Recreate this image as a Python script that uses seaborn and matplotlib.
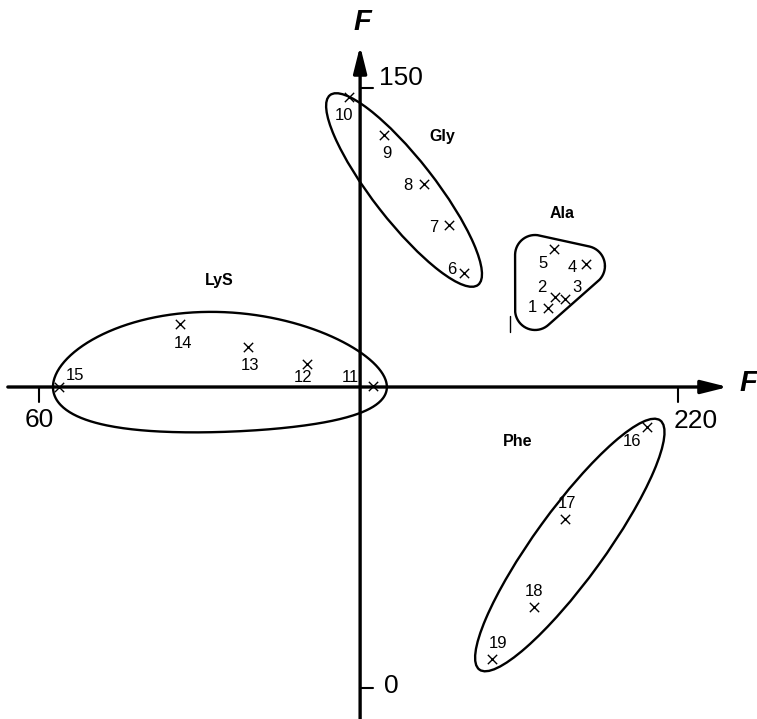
import numpy as np
import pandas as pd
import matplotlib
matplotlib.use("Agg")
import matplotlib.pyplot as plt
from matplotlib.patches import Ellipse
import seaborn as sns

# point coordinates (F axis units)
ids = [1, 2, 3, 4, 5, 6, 7, 8, 9, 10, 11, 12, 13, 14, 15, 16, 17, 18, 19]
groups = ["Ala"] * 5 + ["Gly"] * 5 + ["LyS"] * 5 + ["Phe"] * 4
fx = [187.4, 189.2, 191.7, 197.0, 188.9,
      166.4, 162.7, 156.4, 146.4, 137.6,
      143.6, 127.1, 112.3, 95.3, 65.0,
      212.2, 191.7, 183.9, 173.4]
fy = [95.0, 97.75, 97.25, 106.0, 109.75,
      103.75, 115.75, 126.0, 138.25, 147.75,
      75.5, 81.0, 85.25, 91.0, 75.25,
      65.25, 42.25, 20.25, 7.25]

x_ticks = [60, 220]
y_ticks = [0, 150]

df = pd.DataFrame({"id": ids, "group": groups, "fx": fx, "fy": fy})

# label offsets in pixels (dx right, dy down) relative to each cross
label_off = {1: (-15, 0), 2: (-13, -10), 3: (12, -12), 4: (-14, 3), 5: (-11, 15),
             6: (-12, -3), 7: (-15, 3), 8: (-16, 2), 9: (3, 18), 10: (-5, 18),
             11: (-23, -8), 12: (-4, 14), 13: (2, 18), 14: (3, 20), 15: (16, -11),
             16: (-15, 14), 17: (2, -16), 18: (0, -16), 19: (6, -15)}

X0, Y0 = 140.4, 75.25  # where the two axes cross

sns.set_style("white")
plt.rcParams["font.family"] = ["Liberation Sans", "DejaVu Sans"]
plt.rcParams["text.color"] = "black"

fig = plt.figure(figsize=(7.57, 7.19), dpi=100)
ax = fig.add_axes([0, 0, 1, 1])
ax.set_xlim(50.235, 239.77)
ax.set_ylim(-7.75, 172)
for s in ax.spines.values():
    s.set_visible(False)
ax.set_xticks([])
ax.set_yticks([])

# axes with arrows
arrow = dict(arrowstyle="-|>,head_length=0.8,head_width=0.2", lw=2.4,
             color="black", shrinkA=0, shrinkB=0, mutation_scale=20)
ax.annotate("", xy=(232.5, Y0), xytext=(52.2, Y0), arrowprops=arrow)
ax.annotate("", xy=(X0, 160.5), xytext=(X0, -8), arrowprops=arrow)

# tick marks
for t in x_ticks:
    ax.plot([t, t], [Y0, Y0 - 3.7], color="black", lw=1.5)
for t in y_ticks:
    ax.plot([X0, X0 + 3.3], [t, t], color="black", lw=1.5)

tick_font = dict(fontsize=19, ha="center", va="center", color="black")
ax.text(150.6, 152.5, "150", **tick_font)
ax.text(60, 67.0, "60", **tick_font)
ax.text(224.5, 66.75, "220", **tick_font)
ax.text(148.1, 0.5, "0", **tick_font)

ax.text(140.9, 166.5, "F", fontsize=21, fontweight="bold", fontstyle="italic",
        ha="center", va="center", color="black")
ax.text(237.5, 76.25, "F", fontsize=21, fontweight="bold", fontstyle="italic",
        ha="center", va="center", color="black")

# scatter of the crosses
sns.scatterplot(data=df, x="fx", y="fy", marker="x", color="black", s=45,
                linewidth=1.0, ax=ax, legend=False, zorder=3)
ax.set_xlabel("")
ax.set_ylabel("")

for i, x, y in zip(ids, fx, fy):
    dx, dy = label_off[i]
    ax.annotate(str(i), (x, y), xytext=(dx * 0.72, -dy * 0.72),
                textcoords="offset points", ha="center", va="center",
                fontsize=12, color="black")

# group enclosures
lw = 1.7
ax.add_patch(Ellipse((151.4, 124.5), 60.2, 15.5, angle=-52, fill=False,
                     lw=lw, color="black"))
ax.add_patch(Ellipse((192.9, 35.75), 77, 17.5, angle=54, fill=False,
                     lw=lw, color="black"))

t = np.linspace(0, 2 * np.pi, 400)
ex = 105.3 + 41.8 * np.cos(t)
ey = 79 + 15 * np.sin(t) * (1 - 0.08 * np.cos(t)) - 3.75 * np.cos(t) ** 2
ax.plot(ex, ey, color="black", lw=lw)

# Ala: rounded triangle (triangle grown by a small radius)
tri = np.array([[184.2, 108.25], [196.7, 105.5], [184.2, 94.5]])
rr = 5.0
nrm = np.column_stack([np.cos(t), np.sin(t)])
best = np.argmax(nrm @ tri.T, axis=1)
blob = tri[best] + rr * nrm
ax.plot(blob[:, 0], blob[:, 1], color="black", lw=lw)

# stray mark next to the Ala group
ax.plot([177.9, 177.9], [89, 93], color="black", lw=1)

grp_font = dict(fontsize=11.5, fontweight="bold", ha="center", va="center",
                color="black")
ax.text(160.9, 137.75, "Gly", **grp_font)
ax.text(190.9, 118.75, "Ala", **grp_font)
ax.text(105.1, 101.75, "LyS", **grp_font)
ax.text(179.9, 61.75, "Phe", **grp_font)

fig.savefig("out.png", dpi=100)
plt.close(fig)
